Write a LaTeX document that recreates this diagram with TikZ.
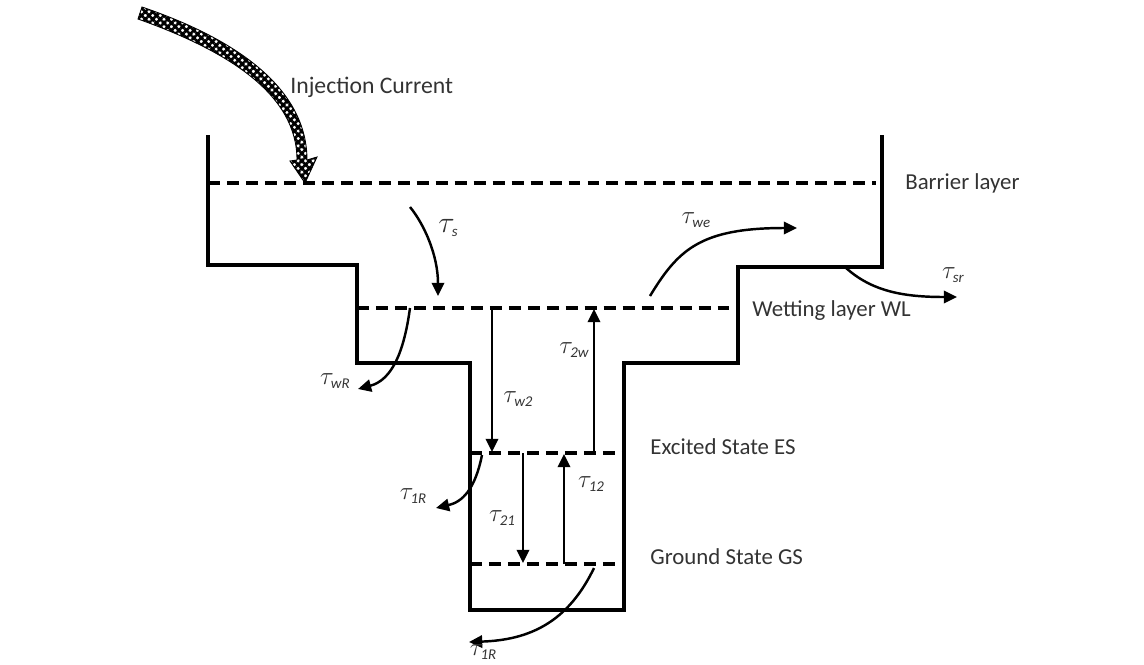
\documentclass[tikz,border=0pt]{standalone}
\usepackage{fontspec}
\setmainfont{Carlito}
\usetikzlibrary{arrows.meta,patterns.meta}
\newcommand\taulbl[2][15]{{\fontsize{#1}{#1}\selectfont$\tau$}\kern-1.6pt\raisebox{-2.6pt}{\fontsize{8.5}{9}\selectfont\itshape #2}}
\begin{document}
\begin{tikzpicture}[x=0.02cm,y=-0.02cm,
  wall/.style={line width=2pt, line join=miter},
  level/.style={line width=1.8pt, dash pattern=on 6.8pt off 4pt},
  rate/.style={line width=1.4pt, -{Triangle[length=7.5pt,width=7pt]}},
  lbl/.style={font=\fontsize{13}{15}\selectfont, anchor=west, text=black!80, inner sep=0},
  tau/.style={inner sep=0, text=black!80}]
\useasboundingbox (0,0) rectangle (1144,664);

% well profile
\draw[wall] (208,135) -- (208,265) -- (357,265) -- (357,363) -- (470,363) -- (470,610)
  -- (624,610) -- (624,363) -- (738,363) -- (738,267) -- (882,267) -- (882,135);

% energy levels
\draw[level] (208,183) -- (876,183);
\draw[level] (357,308) -- (730,308);
\draw[level] (470,453) -- (624,453);
\draw[level] (470,564) -- (624,564);

% injection current arrow
\path[pattern={Hatch[angle=45,distance=3pt,line width=1.5pt]}, draw=black, line width=0.5pt]
  (142,7) .. controls (236,39) and (307,88) .. (307,160)
  -- (317,157) -- (305,183) -- (290,161) -- (297,160)
  .. controls (297,94) and (228,51) .. (138,19) -- cycle;

% labels
\node[lbl, font=\fontsize{13.5}{15}\selectfont] (inj) at (290,87) {Injection Current};
\node[lbl] (bar) at (905,183) {Barrier layer};
\node[lbl] (wl) at (752,311) {Wetting layer WL};
\node[lbl] (es) at (650,447) {Excited State ES};
\node[lbl] (gs) at (650,557) {Ground State GS};

% named coordinates for rate arrows
\coordinate (s0) at (410,207);  \coordinate (s1) at (438,296);
\coordinate (we0) at (650,296); \coordinate (we1) at (797,228);
\coordinate (sr0) at (845,267); \coordinate (sr1) at (957,297);
\coordinate (wr0) at (410,308); \coordinate (wr1) at (358,389);
\coordinate (w20) at (492,308); \coordinate (w21) at (492,452);
\coordinate (2w0) at (594,453); \coordinate (2w1) at (594,309);
\coordinate (e0) at (482,455);  \coordinate (e1) at (436,508);
\coordinate (a0) at (523,453);  \coordinate (a1) at (523,563);
\coordinate (b0) at (564,564);  \coordinate (b1) at (564,454);
\coordinate (g0) at (594,568);  \coordinate (g1) at (469,642);

\draw[rate] (s0) .. controls (424,224) and (438,255) .. (s1);
\draw[rate] (we0) .. controls (678,250) and (700,228) .. (we1);
\draw[rate] (sr0) .. controls (872,292) and (905,297) .. (sr1);
\draw[rate] (wr0) .. controls (404,352) and (392,380) .. (wr1);
\draw[rate] (w20) -- (w21);
\draw[rate] (2w0) -- (2w1);
\draw[rate] (e0) .. controls (475,490) and (462,502) .. (e1);
\draw[rate] (a0) -- (a1);
\draw[rate] (b0) -- (b1);
\draw[rate] (g0) .. controls (568,622) and (530,640) .. (g1);

% tau labels
\node[tau] (ts) at (448,228) {\taulbl[19]{s}};
\node[tau] (twe) at (696,220) {\taulbl{we}};
\node[tau] (tsr) at (953,275) {\taulbl{sr}};
\node[tau] (twr) at (335,381) {\taulbl{wR}};
\node[tau] (tw2) at (518,399) {\taulbl{w2}};
\node[tau] (t2w) at (574,350) {\taulbl{2w}};
\node[tau] (t1re) at (413,496) {\taulbl{1R}};
\node[tau] (t21) at (502,518) {\taulbl{21}};
\node[tau] (t12) at (591,484) {\taulbl{12}};
\node[tau] (t1rg) at (483,652) {\taulbl{1R}};
\end{tikzpicture}
\end{document}
